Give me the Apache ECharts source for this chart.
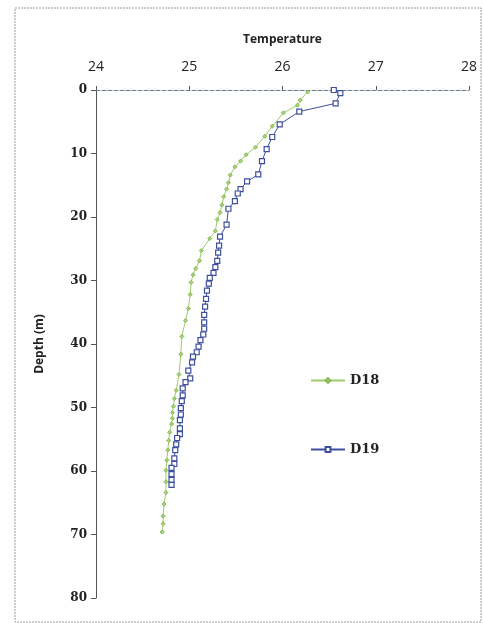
<!DOCTYPE html>
<html>
<head>
<meta charset="utf-8">
<script src="https://cdn.jsdelivr.net/npm/echarts@6/dist/echarts.min.js"></script>
<style>
  html, body { margin: 0; padding: 0; background: #fff; }
  #chart { width: 484px; height: 623px; }
</style>
</head>
<body>
<div id="chart"></div>
<script>
    // temperature / depth profiles
    var d18Temp = [26.27, 26.19, 26.16, 26.01, 25.89, 25.81, 25.71, 25.61, 25.55, 25.49, 25.44, 25.42, 25.40, 25.37, 25.35, 25.33, 25.30, 25.28, 25.22, 25.13, 25.11, 25.07, 25.04, 25.02, 25.01, 24.99, 24.96, 24.92, 24.91, 24.89, 24.86, 24.84, 24.83, 24.82, 24.82, 24.81, 24.79, 24.78, 24.77, 24.76, 24.75, 24.75, 24.75, 24.73, 24.72, 24.72, 24.71];
    var d18Depth = [0.3, 1.6, 2.4, 3.6, 5.7, 7.3, 9.0, 10.2, 11.2, 12.1, 13.4, 14.6, 15.6, 16.8, 18.1, 19.3, 20.4, 22.2, 23.4, 25.3, 26.9, 28.1, 29.1, 30.3, 32.2, 34.4, 36.3, 38.8, 41.6, 44.8, 47.3, 48.6, 49.8, 50.8, 51.7, 52.6, 53.9, 55.2, 56.7, 58.3, 59.9, 61.7, 63.4, 65.2, 67.1, 68.3, 69.6];

    var d19Temp = [26.55, 26.62, 26.57, 26.18, 25.97, 25.89, 25.83, 25.78, 25.74, 25.62, 25.55, 25.52, 25.49, 25.42, 25.40, 25.33, 25.32, 25.31, 25.30, 25.28, 25.26, 25.22, 25.21, 25.19, 25.18, 25.17, 25.16, 25.16, 25.16, 25.15, 25.12, 25.10, 25.08, 25.04, 25.03, 24.99, 25.01, 24.96, 24.93, 24.93, 24.92, 24.91, 24.91, 24.90, 24.90, 24.90, 24.87, 24.86, 24.85, 24.84, 24.84, 24.81, 24.81, 24.81, 24.81];
    var d19Depth = [0, 0.5, 2.1, 3.4, 5.4, 7.4, 9.3, 11.2, 13.3, 14.4, 15.6, 16.3, 17.5, 18.7, 21.2, 23.1, 24.5, 25.6, 26.9, 27.9, 28.8, 29.6, 30.5, 31.6, 32.9, 34.1, 35.4, 36.6, 37.6, 38.5, 39.4, 40.4, 41.3, 42.0, 42.9, 44.2, 45.4, 46.0, 47.0, 48.1, 49.0, 50.1, 51.1, 52.0, 53.3, 54.2, 54.8, 55.8, 56.7, 58.0, 58.9, 59.5, 60.5, 61.4, 62.2];

    var tempTicks = [24, 25, 26, 27, 28];
    var depthTicks = [0, 10, 20, 30, 40, 50, 60, 70, 80];

    function pairs(xs, ys) {
        return xs.map(function (x, i) { return [x, ys[i]]; });
    }

    var myChart = echarts.init(document.getElementById('chart'));
    myChart.setOption({
        animation: false,
        backgroundColor: '#fff',
        graphic: [{
            type: 'rect',
            shape: {x: 15, y: 8, width: 466, height: 614},
            style: {fill: 'none', stroke: '#9a9a9a', lineWidth: 1, lineDash: [2, 1]}
        }],
        grid: {left: 96, right: 15, top: 90, bottom: 25},
        legend: {
            orient: 'vertical',
            left: 305,
            top: 369,
            itemGap: 56,
            itemWidth: 34,
            itemHeight: 6,
            textStyle: {fontFamily: 'DejaVu Serif', fontWeight: 'bold', fontSize: 13, color: '#222'},
            data: ['D18', 'D19']
        },
        xAxis: {
            type: 'value',
            position: 'top',
            min: tempTicks[0],
            max: tempTicks[tempTicks.length - 1],
            interval: 1,
            name: 'Temperature',
            nameLocation: 'middle',
            nameGap: 44,
            nameTextStyle: {fontFamily: 'Open Sans', fontWeight: 'bold', fontSize: 12, color: '#222'},
            axisLine: {show: true, lineStyle: {color: '#6b7a8c', type: 'dashed', width: 1}},
            axisTick: {show: true, inside: false, length: 4, lineStyle: {color: '#555'}},
            axisLabel: {margin: 16, fontFamily: 'Open Sans', fontSize: 14, color: '#222'},
            splitLine: {show: false}
        },
        yAxis: {
            type: 'value',
            inverse: true,
            min: depthTicks[0],
            max: depthTicks[depthTicks.length - 1],
            interval: 10,
            name: 'Depth (m)',
            nameLocation: 'middle',
            nameGap: 50,
            nameRotate: 90,
            nameTextStyle: {fontFamily: 'Open Sans', fontWeight: 'bold', fontSize: 12, color: '#222'},
            axisLine: {show: true, lineStyle: {color: '#555', width: 1}},
            axisTick: {show: true, length: 5, lineStyle: {color: '#555'}},
            axisLabel: {margin: 9, fontFamily: 'DejaVu Serif', fontWeight: 'bold', fontSize: 12, color: '#222'},
            splitLine: {show: false}
        },
        series: [
            {
                name: 'D18',
                type: 'line',
                data: pairs(d18Temp, d18Depth),
                symbol: 'diamond',
                symbolSize: 4,
                lineStyle: {color: '#9ccc6a', width: 1},
                itemStyle: {color: '#a8d47a', borderColor: '#86b852', borderWidth: 1}
            },
            {
                name: 'D19',
                type: 'line',
                data: pairs(d19Temp, d19Depth),
                symbol: 'rect',
                symbolSize: 5,
                lineStyle: {color: '#3d4f9e', width: 1},
                itemStyle: {color: '#fff', borderColor: '#3d4f9e', borderWidth: 1.2}
            }
        ]
    });

    window.onresize = function () {
        myChart.resize();
    };
</script>
</body>
</html>
